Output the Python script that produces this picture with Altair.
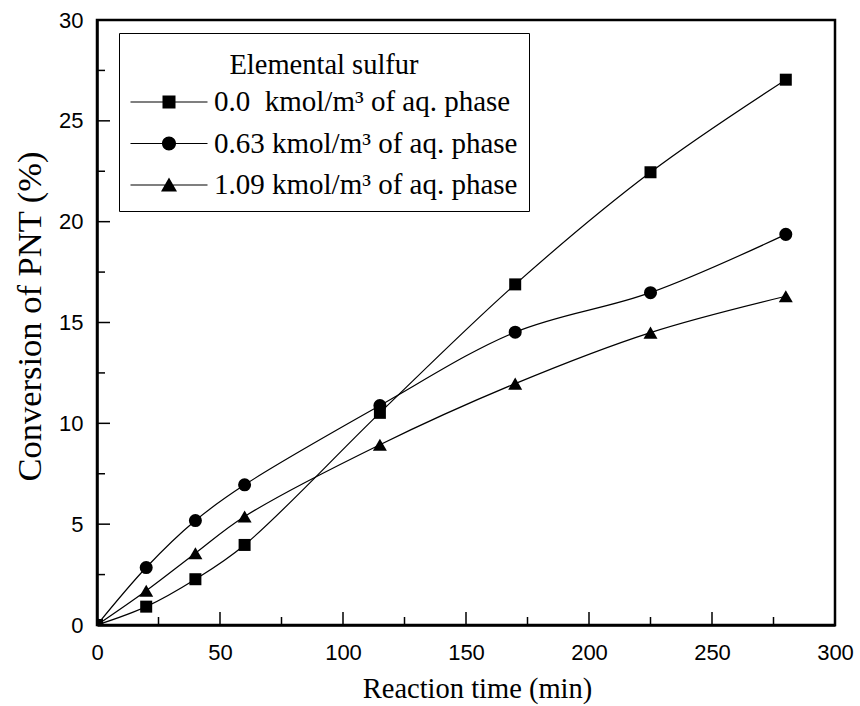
import altair as alt
import pandas as pd

# ---- data ----
times = [0, 20, 40, 60, 115, 170, 225, 280]
series_names = [
    "0.0\u00a0 kmol/m\u00b3 of aq. phase",
    "0.63 kmol/m\u00b3 of aq. phase",
    "1.09 kmol/m\u00b3 of aq. phase",
]
legend_title = "Elemental sulfur"
conv_000 = [0, 0.91, 2.27, 3.97, 10.52, 16.89, 22.45, 27.04]
conv_063 = [0, 2.85, 5.18, 6.95, 10.88, 14.52, 16.48, 19.37]
conv_109 = [0, 1.70, 3.56, 5.38, 8.94, 11.97, 14.50, 16.30]

x_major = [0, 50, 100, 150, 200, 250, 300]
x_minor = [25, 75, 125, 175, 225, 275]
y_major = [0, 5, 10, 15, 20, 25, 30]
y_minor = [2.5, 7.5, 12.5, 17.5, 22.5, 27.5]

rows = []
for name, vals in zip(series_names, [conv_000, conv_063, conv_109]):
    for t, v in zip(times, vals):
        rows.append({"t": t, "c": v, "series": name})
df = pd.DataFrame(rows)

W, H = 738, 605
serif = "Liberation Serif"
sans = "Liberation Sans"

xs = alt.Scale(domain=[0, 300], nice=False, zero=False)
ys = alt.Scale(domain=[0, 30], nice=False, zero=False)

x_enc = alt.X(
    "t:Q", scale=xs,
    axis=alt.Axis(values=x_major, format="d", tickSize=0, labelPadding=17, labelFlush=False,
                  labelFont=sans, labelFontSize=22, labelColor="black",
                  domain=True, domainColor="black", domainWidth=2.5, grid=False,
                  title="Reaction time (min)", titleFont=serif, titleFontSize=28.5,
                  titleFontWeight="normal", titleColor="black",
                  titleBaseline="alphabetic", titleY=72, titleX=380),
)
y_enc = alt.Y(
    "c:Q", scale=ys,
    axis=alt.Axis(values=y_major, format="d", tickSize=0, labelPadding=14, labelFlush=False,
                  labelFont=sans, labelFontSize=22, labelColor="black",
                  domain=True, domainColor="black", domainWidth=2.5, grid=False,
                  title="Conversion of PNT (%)", titleFont=serif, titleFontSize=34.5,
                  titleFontWeight="normal", titleColor="black",
                  titleBaseline="alphabetic", titleX=-57, titleY=296, titleAngle=270),
)

shape_domain = series_names
plain_shapes = ["square", "circle", "triangle-up"]
legend_shapes = [
    "M-1.4,-0.06H6.3V0.06H-1.4ZM1.8,-0.65H3.1V0.65H1.8Z",
    "M-1.4,-0.06H6.3V0.06H-1.4ZM3.15,0A0.7,0.7,0,1,1,1.75,0A0.7,0.7,0,1,1,3.15,0Z",
    "M-1.4,-0.06H6.3V0.06H-1.4ZM2.45,-0.75L3.25,0.65L1.65,0.65Z",
]

lines = alt.Chart(df).mark_line(
    interpolate="catmull-rom", color="black", strokeWidth=1.2, clip=True
).encode(x=x_enc, y=y_enc, detail="series:N")

points = alt.Chart(df).mark_point(
    filled=True, color="black", opacity=1, clip=True
).encode(
    x=alt.X("t:Q", scale=xs),
    y=alt.Y("c:Q", scale=ys),
    shape=alt.Shape("series:N", scale=alt.Scale(domain=shape_domain, range=plain_shapes), legend=None),
    size=alt.Size("series:N", scale=alt.Scale(domain=shape_domain, range=[144, 196, 256]), legend=None),
)

legend_layer = alt.Chart(df).transform_filter("datum.t < 0").mark_point(
    filled=True, color="black", opacity=1
).encode(
    x=alt.X("t:Q", scale=xs),
    y=alt.Y("c:Q", scale=ys),
    shape=alt.Shape(
        "series:N",
        scale=alt.Scale(domain=shape_domain, range=legend_shapes),
        legend=alt.Legend(
            title=legend_title, orient="none", legendX=22, legendY=13,
            titleFont=serif, titleFontSize=28.5, titleFontWeight="normal", titleColor="black",
            titleAnchor="middle", titleAlign="center", titlePadding=15, titleLimit=600,
            titleBaseline="line-top", titleLineHeight=42.5,
            labelFont=serif, labelFontSize=29, labelColor="black", labelOffset=55,
            labelLimit=600,
            symbolSize=400, symbolFillColor="black", symbolOpacity=1,
            rowPadding=11.5, padding=11,
            strokeColor="black", fillColor="white",
        ),
    ),
)

tick_x_major = alt.Chart(pd.DataFrame({"v": x_major})).mark_rule(color="black", strokeWidth=1.5).encode(
    x=alt.X("v:Q", scale=xs), y=alt.value(H), y2=alt.value(H - 13))
tick_x_minor = alt.Chart(pd.DataFrame({"v": x_minor})).mark_rule(color="black", strokeWidth=1.5).encode(
    x=alt.X("v:Q", scale=xs), y=alt.value(H), y2=alt.value(H - 8))
tick_y_major = alt.Chart(pd.DataFrame({"v": y_major})).mark_rule(color="black", strokeWidth=1.5).encode(
    y=alt.Y("v:Q", scale=ys), x=alt.value(0), x2=alt.value(13))
tick_y_minor = alt.Chart(pd.DataFrame({"v": y_minor})).mark_rule(color="black", strokeWidth=1.5).encode(
    y=alt.Y("v:Q", scale=ys), x=alt.value(0), x2=alt.value(8))

chart = alt.layer(
    lines, points, legend_layer, tick_x_major, tick_x_minor, tick_y_major, tick_y_minor
).resolve_scale(shape="independent", size="independent").properties(
    width=W, height=H,
    autosize=alt.AutoSizeParams(type="none"),
    padding={"left": 97, "top": 20, "right": 25, "bottom": 81},
    background="white",
).configure_view(stroke="black", strokeWidth=2.5)

chart.save("out.html", embed_options={"renderer": "svg", "actions": False})
